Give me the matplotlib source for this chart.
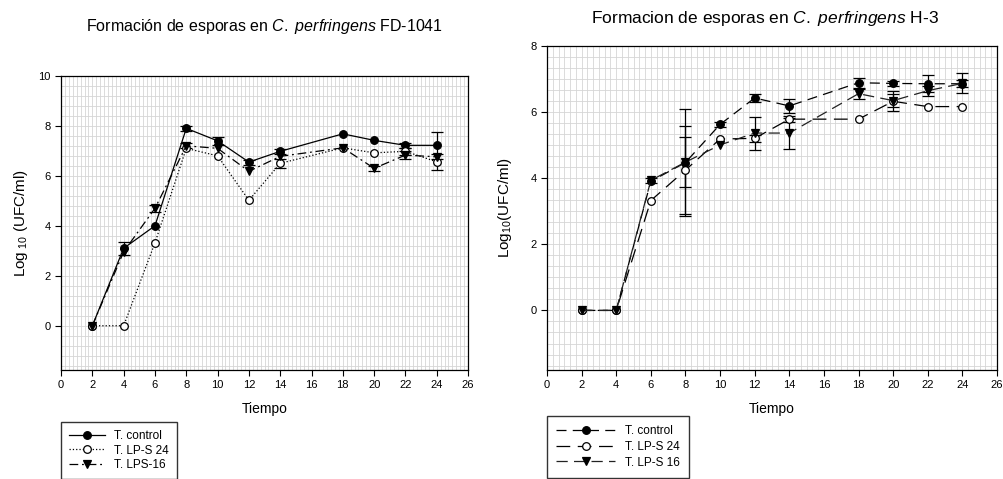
import numpy as np
import matplotlib
matplotlib.use("Agg")
import matplotlib.pyplot as plt
from matplotlib.ticker import MultipleLocator

plt.rcParams['font.family'] = ['Liberation Sans', 'DejaVu Sans']
plt.rcParams['mathtext.fontset'] = 'custom'
plt.rcParams['mathtext.rm'] = 'Liberation Sans'
plt.rcParams['mathtext.it'] = 'Liberation Sans:italic'

# --- data, left panel (FD-1041)
tiempo = [2, 4, 6, 8, 10, 12, 14, 18, 20, 22, 24]
fd_control = [0, 3.1, 4.0, 7.9, 7.4, 6.55, 6.98, 7.68, 7.42, 7.22, 7.22]
fd_control_err = [0, 0.25, 0, 0.1, 0.15, 0.1, 0.1, 0, 0, 0.1, 0.53]
fd_lps24 = [0, 0, 3.32, 7.1, 6.8, 5.02, 6.5, 7.12, 6.92, 6.98, 6.56]
fd_lps24_err = [0, 0, 0, 0, 0, 0, 0.18, 0, 0, 0.15, 0.33]
fd_lps16 = [0, 2.96, 4.7, 7.2, 7.1, 6.18, 6.78, 7.12, 6.3, 6.83, 6.76]
fd_lps16_err = [0, 0, 0.15, 0.1, 0, 0, 0, 0, 0.1, 0.15, 0]

# --- data, right panel (H-3)
h3_control = [0, 0, 3.9, 4.47, 5.62, 6.42, 6.18, 6.88, 6.86, 6.85, 6.85]
h3_control_err = [0, 0, 0, 1.63, 0.08, 0.12, 0.2, 0.15, 0.08, 0.25, 0.1]
h3_lps24 = [0, 0, 3.32, 4.24, 5.18, 5.2, 5.78, 5.78, 6.32, 6.16, 6.16]
h3_lps24_err = [0, 0, 0, 1.32, 0, 0.1, 0.1, 0, 0.3, 0, 0]
h3_lps16 = [0, 0, 3.93, 4.48, 5.0, 5.36, 5.36, 6.55, 6.34, 6.64, 6.86]
h3_lps16_err = [0, 0, 0.08, 0.75, 0, 0.5, 0.47, 0.15, 0.2, 0.15, 0.3]


def draw_series(ax, x, y, err, **kw):
    x = np.array(x, float)
    y = np.array(y, float)
    err = np.array(err, float)
    m = err > 0
    ax.errorbar(x[m], y[m], yerr=err[m], fmt='none', ecolor='black',
                elinewidth=0.9, capsize=4, capthick=0.9, zorder=3)
    return ax.plot(x, y, zorder=4, markeredgecolor='black', markeredgewidth=0.9,
                   markersize=5.5, **kw)[0]


def style_axes(ax, ymin, ymax, xminor, yminor):
    ax.set_xlim(0, 26)
    ax.set_ylim(ymin, ymax)
    ax.xaxis.set_major_locator(MultipleLocator(2))
    ax.yaxis.set_major_locator(MultipleLocator(2))
    ax.xaxis.set_minor_locator(MultipleLocator(xminor))
    ax.yaxis.set_minor_locator(MultipleLocator(yminor))
    ax.grid(which='both', color='#d6d6d6', linewidth=0.6, zorder=0)
    ax.set_axisbelow(True)
    ax.tick_params(which='minor', length=0)
    ax.tick_params(which='major', direction='out', length=4, labelsize=8)
    for s in ax.spines.values():
        s.set_linewidth(0.9)
    ax.set_xlabel('Tiempo', fontsize=10, labelpad=8)


fig = plt.figure(figsize=(10.04, 4.79), dpi=100)

ax1 = fig.add_axes([0.0608, 0.2276, 0.4054, 0.614])
style_axes(ax1, -1.77, 10, 0.25, 0.4)
ax1.set_yticks([0, 2, 4, 6, 8, 10])
h1 = draw_series(ax1, tiempo, fd_control, fd_control_err, color='black',
                 linestyle='-', linewidth=0.9, marker='o', markerfacecolor='black')
h2 = draw_series(ax1, tiempo, fd_lps24, fd_lps24_err, color='black',
                 linestyle=':', linewidth=0.9, marker='o', markerfacecolor='white')
h3 = draw_series(ax1, tiempo, fd_lps16, fd_lps16_err, color='black',
                 linestyle=(0, (7, 3, 1.5, 3)), linewidth=0.9, marker='v',
                 markerfacecolor='black')
ax1.set_ylabel('Log$_{\\ 10}$ (UFC/ml)', fontsize=11, labelpad=6)
ax1.set_title('Formación de esporas en $\\it{C.}$ $\\it{perfringens}$ FD-1041',
              fontsize=11.5, pad=32)
fig.legend([h1, h2, h3], ['T. control', 'T. LP-S 24', 'T. LPS-16'],
           loc='upper left', bbox_to_anchor=(0.0608, 1 - 422 / 479),
           borderaxespad=0, fontsize=8.5, frameon=True, fancybox=False,
           edgecolor='black', handlelength=3, labelspacing=0.2, borderpad=0.7)

ax2 = fig.add_axes([0.5448, 0.2276, 0.4482, 0.677])
style_axes(ax2, -1.8, 8, 1 / 3, 1 / 3)
ax2.set_yticks([0, 2, 4, 6, 8])
g1 = draw_series(ax2, tiempo, h3_control, h3_control_err, color='black',
                 linestyle=(0, (8, 5)), linewidth=0.9, marker='o',
                 markerfacecolor='black')
g2 = draw_series(ax2, tiempo, h3_lps24, h3_lps24_err, color='black',
                 linestyle=(0, (11, 6)), linewidth=0.9, marker='o',
                 markerfacecolor='white')
g3 = draw_series(ax2, tiempo, h3_lps16, h3_lps16_err, color='#222222',
                 linestyle=(0, (9, 5)), linewidth=0.9, marker='v',
                 markerfacecolor='black')
ax2.set_ylabel('Log$_{10}$(UFC/ml)', fontsize=11, labelpad=12)
ax2.set_title('Formacion de esporas en $\\it{C.}$ $\\it{perfringens}$ H-3',
              fontsize=12.5, pad=16, x=0.484)
fig.legend([g1, g2, g3], ['T. control', 'T. LP-S 24', 'T. LP-S 16'],
           loc='upper left', bbox_to_anchor=(0.5448, 1 - 416 / 479),
           borderaxespad=0, fontsize=8.5, frameon=True, fancybox=False,
           edgecolor='black', handlelength=5, labelspacing=0.3, borderpad=0.8)

fig.savefig('out.png', dpi=100)
